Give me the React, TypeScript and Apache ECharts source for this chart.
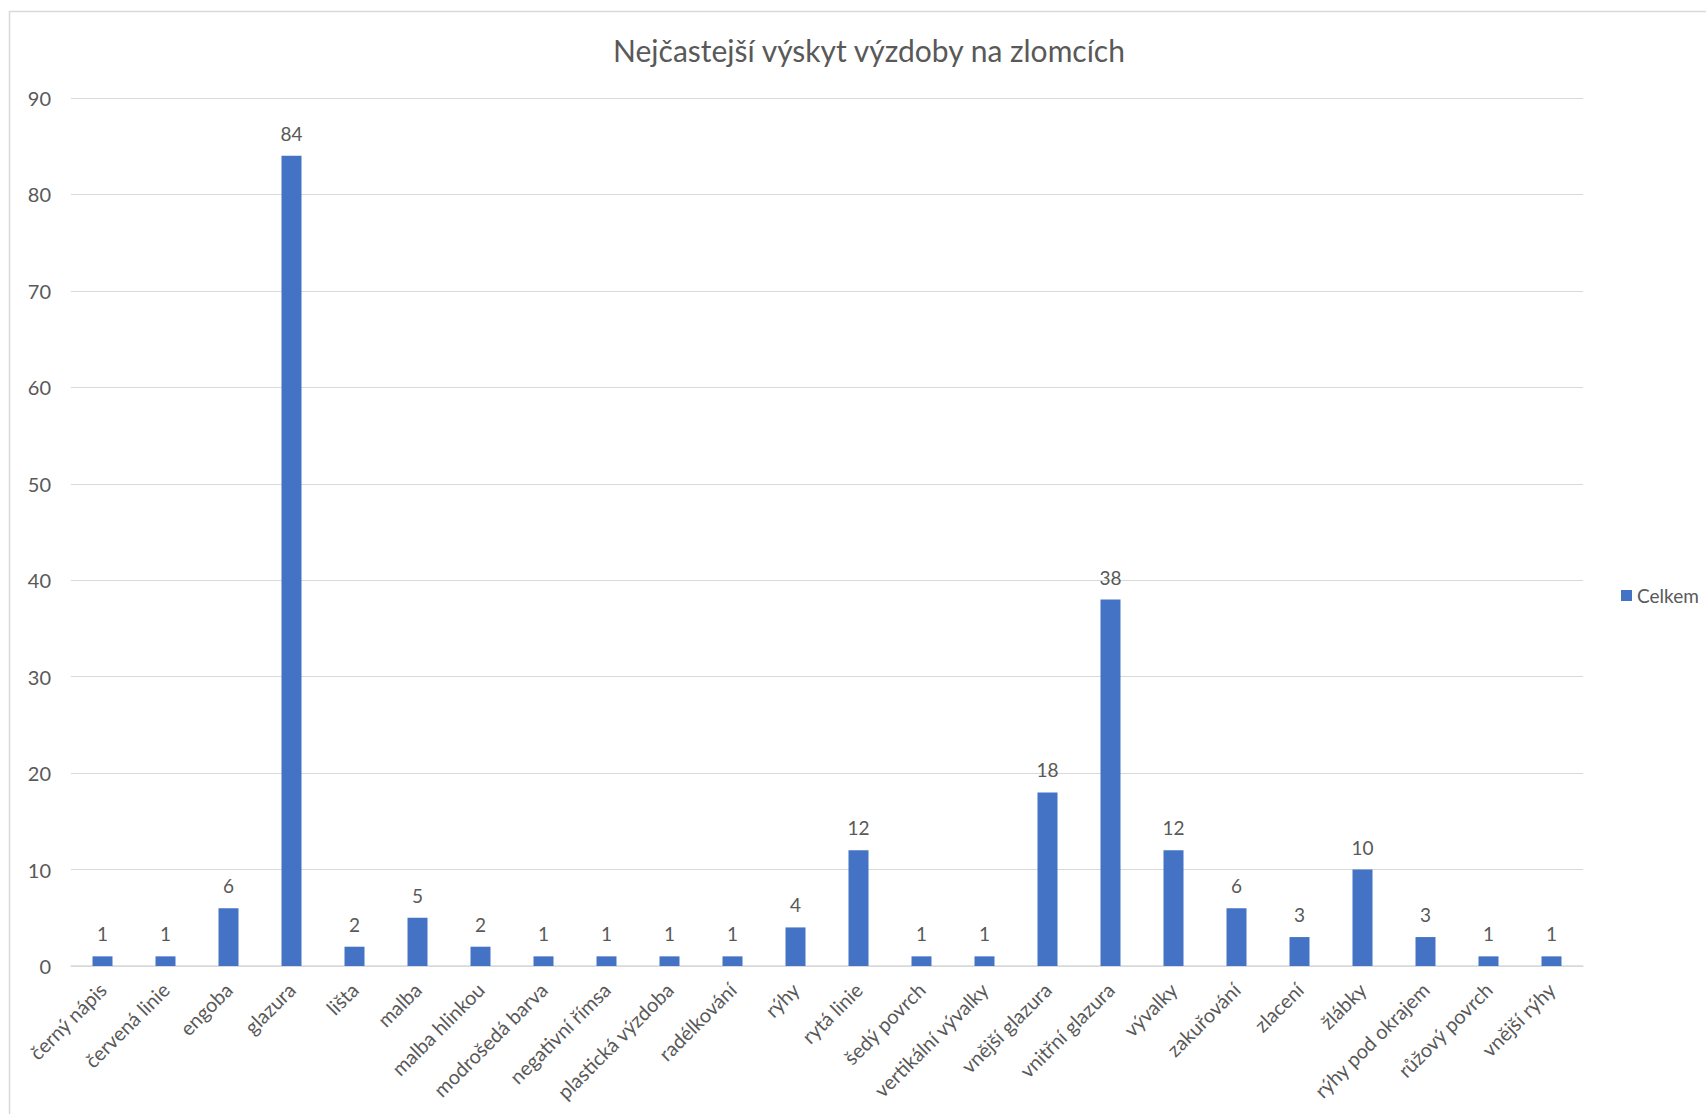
import React, { useEffect, useRef } from "react";
import * as echarts from "echarts";

const categories = [
  "černý nápis",
  "červená linie",
  "engoba",
  "glazura",
  "lišta",
  "malba",
  "malba hlinkou",
  "modrošedá barva",
  "negativní římsa",
  "plastická výzdoba",
  "radélkování",
  "rýhy",
  "rytá linie",
  "šedý povrch",
  "vertikální vývalky",
  "vnější glazura",
  "vnitřní glazura",
  "vývalky",
  "zakuřování",
  "zlacení",
  "žlábky",
  "rýhy pod okrajem",
  "růžový povrch",
  "vnější rýhy",
];

const celkem = [1, 1, 6, 84, 2, 5, 2, 1, 1, 1, 1, 4, 12, 1, 1, 18, 38, 12, 6, 3, 10, 3, 1, 1];

const seriesName = "Celkem";
const titleText = "Nejčastejší výskyt výzdoby na zlomcích";

const FONT = "Lato, 'Open Sans', sans-serif";
const TEXT = "#595959";

export default function App() {
  const ref = useRef<HTMLDivElement>(null);
  useEffect(() => {
    if (!ref.current) return;
    const chart = echarts.init(ref.current, undefined, { renderer: "svg" });
    chart.setOption({
      animation: false,
      backgroundColor: "#ffffff",
      textStyle: { fontFamily: FONT },
      title: {
        text: titleText,
        left: 864,
        top: 30,
        textAlign: "center",
        textStyle: { fontFamily: FONT, fontSize: 30, fontWeight: "normal", color: TEXT },
      },
      legend: {
        orient: "vertical",
        left: 1616,
        top: 581,
        itemWidth: 11,
        itemHeight: 11,
        icon: "rect",
        itemGap: 4,
        textStyle: { fontFamily: FONT, fontSize: 19, color: TEXT, padding: [0, 0, 0, 0] },
        data: [seriesName],
      },
      graphic: [
        {
          type: "rect",
          shape: { x: 9.5, y: 11.5, width: 1720, height: 1120 },
          style: { fill: "none", stroke: "#d9d9d9", lineWidth: 1.5 },
          silent: true,
          z: -10,
        },
      ],
      grid: { left: 71, right: 123, top: 98, bottom: 148, containLabel: false },
      xAxis: {
        type: "category",
        data: categories,
        axisLine: { show: true, lineStyle: { color: "#d9d9d9", width: 1.5 } },
        axisTick: { show: false },
        axisLabel: {
          rotate: 45,
          interval: 0,
          margin: 20,
          fontFamily: FONT,
          fontSize: 20,
          color: TEXT,
        },
      },
      yAxis: {
        type: "value",
        min: 0,
        max: 90,
        interval: 10,
        axisLine: { show: false },
        axisTick: { show: false },
        splitLine: { lineStyle: { color: "#d9d9d9", width: 1 } },
        axisLabel: { margin: 20, fontFamily: FONT, fontSize: 20, color: TEXT },
      },
      series: [
        {
          name: seriesName,
          type: "bar",
          data: celkem,
          barWidth: 20,
          itemStyle: { color: "#4472C4" },
          label: {
            show: true,
            position: "top",
            distance: 13,
            fontFamily: FONT,
            fontSize: 19,
            color: TEXT,
          },
        },
      ],
    });
    return () => chart.dispose();
  }, []);
  return (
    <div
      ref={ref}
      style={{ position: "absolute", left: 0, top: 0, width: 1706, height: 1114 }}
    />
  );
}
